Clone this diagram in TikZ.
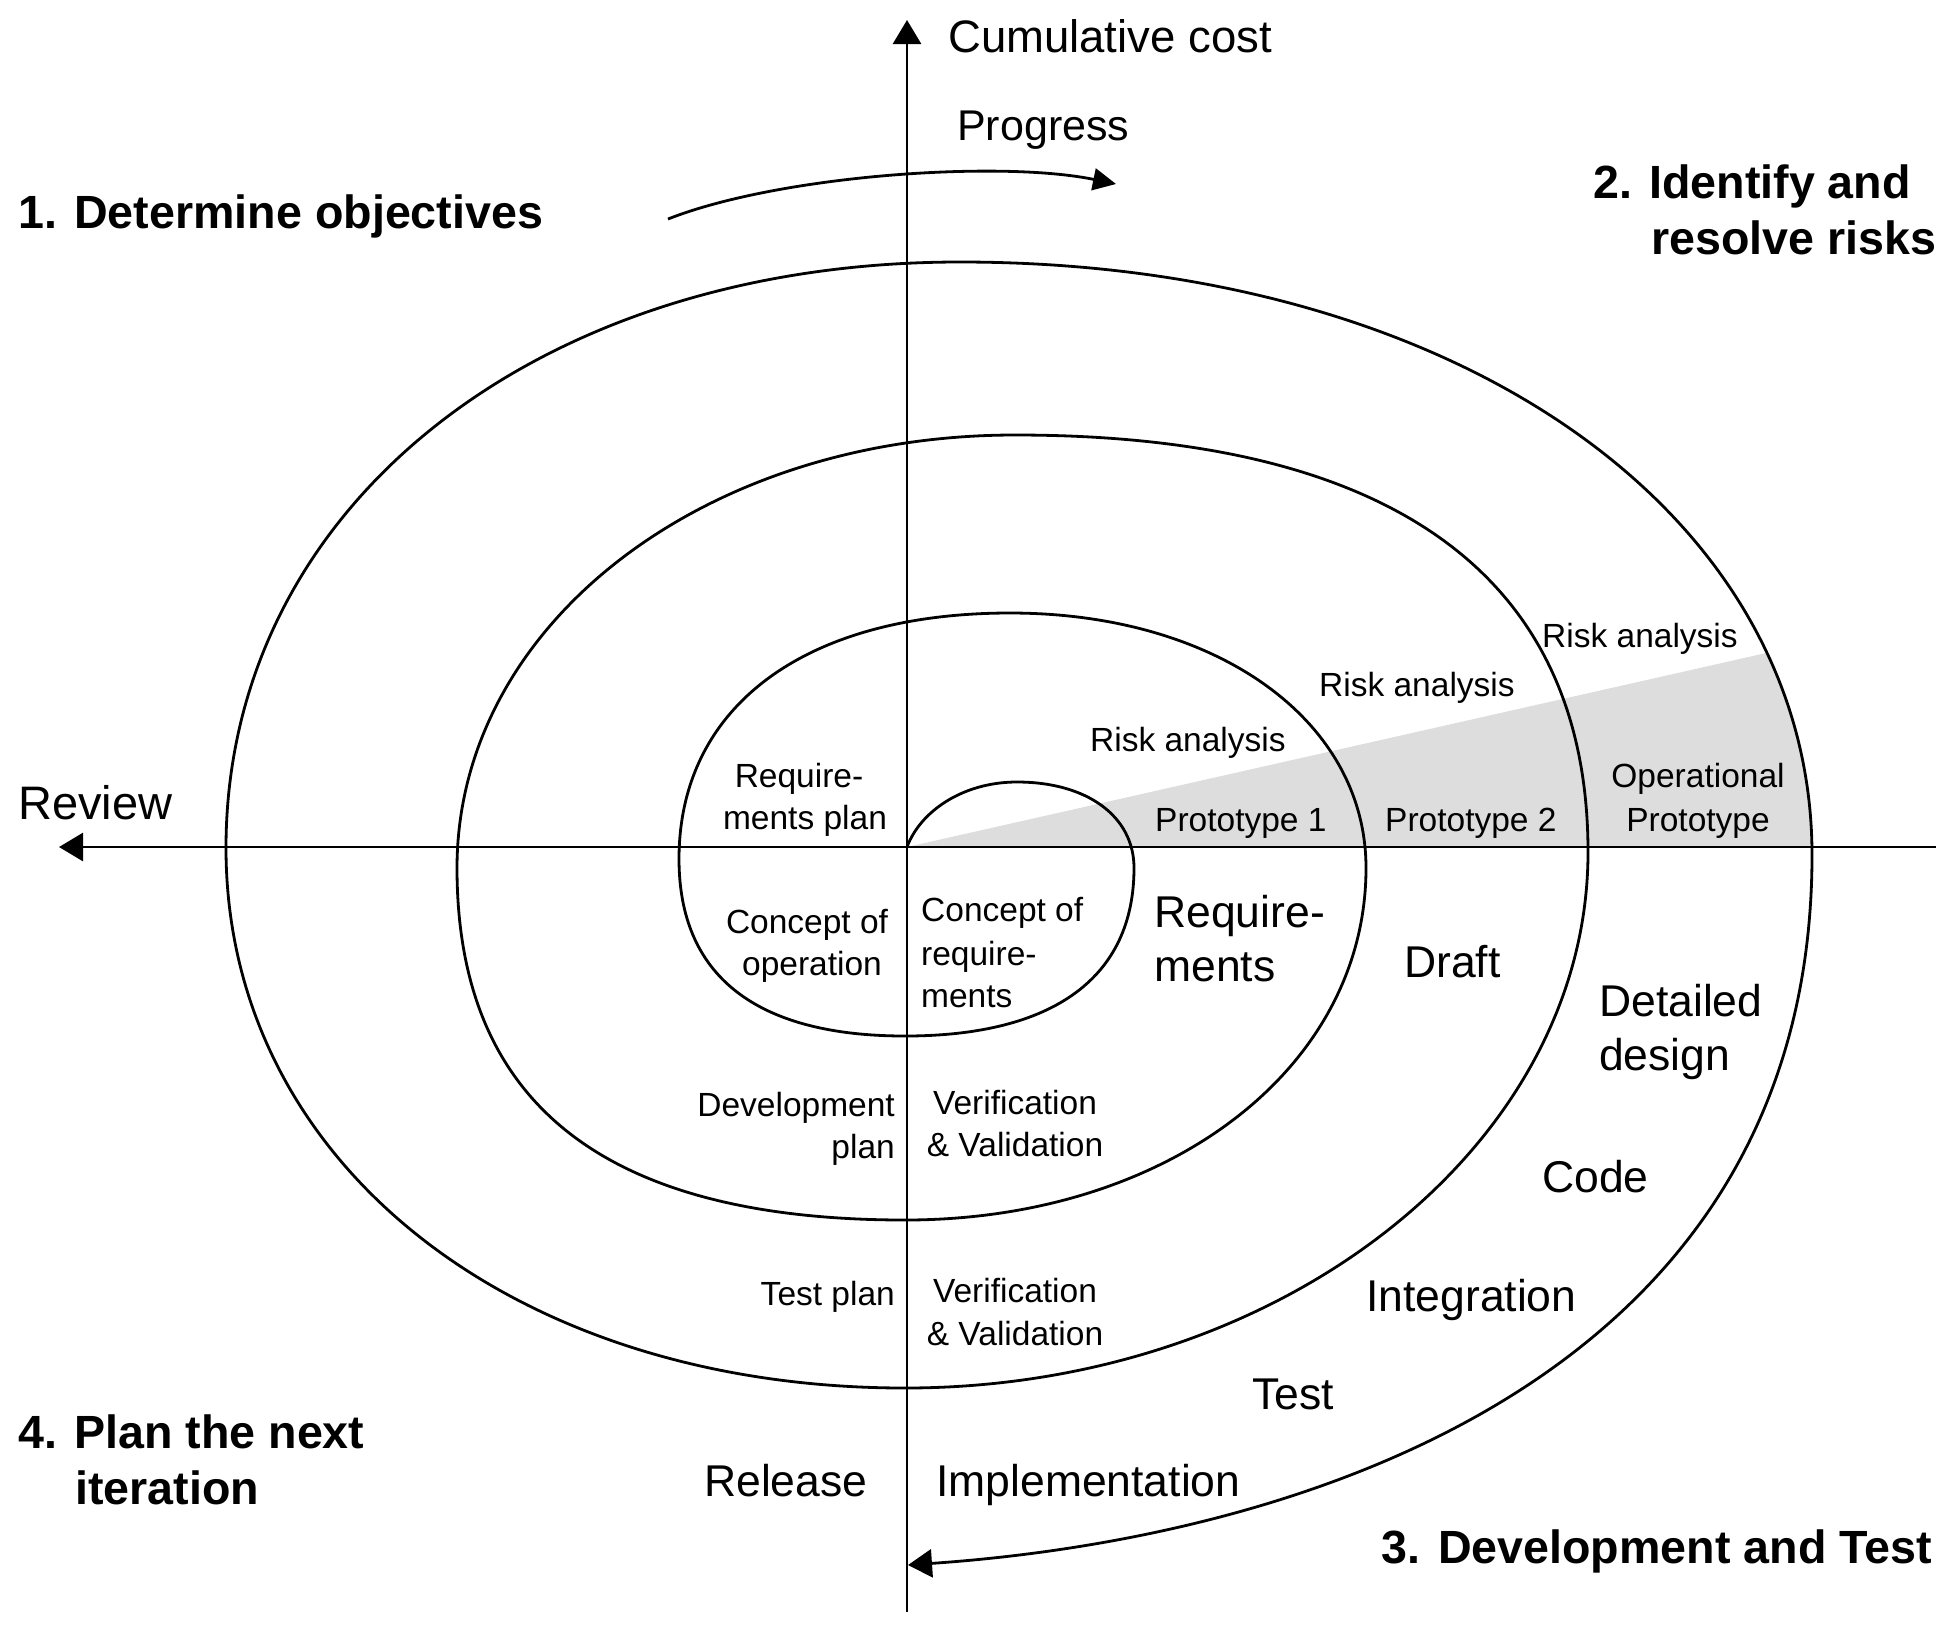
\documentclass[tikz,border=0pt]{standalone}
\usepackage{fontspec}
\setmainfont{Liberation Sans}
\usetikzlibrary{arrows.meta}
\definecolor{wedgegray}{HTML}{DDDDDD}
\begin{document}
\begin{tikzpicture}[x=1pt,y=-1pt,
  stroke/.style={line width=2.8pt},
  tipA/.style={-{Triangle[length=24pt,width=28pt]}},
  tipP/.style={-{Triangle[length=23pt,width=22pt]}},
  small/.style={font=\fontsize{33.5}{40}\selectfont,inner sep=0pt},
  big/.style={font=\fontsize{44.5}{52}\selectfont,inner sep=0pt},
  head/.style={font=\fontsize{46.6}{56}\selectfont\bfseries,inner sep=0pt}]
\useasboundingbox (0,0) rectangle (1950,1628);
% key points of the spiral
\coordinate (O)  at (907,847);
\coordinate (T1) at (1017,782);
\coordinate (R1) at (1134,868);
\coordinate (B1) at (905,1036);
\coordinate (L2) at (679,859);
\coordinate (T2) at (1010,613);
\coordinate (R2) at (1366,868);
\coordinate (B2) at (905,1220);
\coordinate (L3) at (457,868);
\coordinate (T3) at (1015,435);
\coordinate (R3) at (1588,852);
\coordinate (B3) at (905,1388);
\coordinate (L4) at (226,848);
\coordinate (T4) at (960,262);
\coordinate (R4) at (1812,855);
\coordinate (E)  at (908,1565);
% axes end points
\coordinate (ytop) at (907,20);
\coordinate (ybot) at (907,1612);
\coordinate (xleft) at (59,847);
\coordinate (xright) at (1936,847);
\coordinate (pgs) at (668,219);
\coordinate (pge) at (1116,184);

% grey prototype wedge
\begin{scope}
  \clip (907,262) -- (T4) .. controls (1454.2,262) and (1812,511.1) .. (R4) -- (907,855) -- cycle;
  \fill[wedgegray] (O) -- (1950,611.5) -- (1950,847) -- cycle;
\end{scope}

% axes
\draw[stroke,tipA] (ybot) -- (ytop);
\draw[stroke,tipA] (xright) -- (xleft);

% progress arrow
\draw[stroke,tipP] (pgs) .. controls (780,175) and (1000,160) .. (pge);

% spiral
\draw[stroke,tipA] (O) .. controls (920,812) and (962,782) .. (T1)
  .. controls (1087.2,782) and (1134,816.4) .. (R1)
  .. controls (1134,977.2) and (1053.9,1036) .. (B1)
  .. controls (755.8,1036) and (679,975.8) .. (L2)
  .. controls (679,706.5) and (804.8,613) .. (T2)
  .. controls (1216.5,613) and (1366,720.1) .. (R2)
  .. controls (1366,1068.6) and (1167.8,1220) .. (B2)
  .. controls (604.8,1220) and (457,1103.8) .. (L3)
  .. controls (457,625.5) and (702.5,435) .. (T3)
  .. controls (1393.2,435) and (1588,576.8) .. (R3)
  .. controls (1588,1146.8) and (1280.7,1388) .. (B3)
  .. controls (511.2,1388) and (226,1161.2) .. (L4)
  .. controls (226,508.1) and (534.3,262) .. (T4)
  .. controls (1454.2,262) and (1812,511.1) .. (R4)
  .. controls (1812,1380) and (1300,1538) .. (E);

% axis labels
\node[inner sep=0pt,font=\fontsize{45.5}{54}\selectfont,anchor=base west] (cc) at (948,52) {Cumulative cost};
\node[inner sep=0pt,font=\fontsize{43}{52}\selectfont,anchor=base west] (pg) at (957,140) {Progress};
\node[inner sep=0pt,font=\fontsize{47}{54}\selectfont,anchor=base west] (rv) at (18,819) {Review};

% quadrant headings
\node[head,anchor=base west] (h1) at (18,228) {1. Determine objectives};
\node[head,anchor=base west] (h2a) at (1593,198) {2. Identify and};
\node[head,anchor=base west] (h2b) at (1651,254) {resolve risks};
\node[head,anchor=base east] (h3) at (1932,1563) {3. Development and Test};
\node[head,anchor=base west] (h4a) at (18,1448) {4. Plan the next};
\node[head,anchor=base west] (h4b) at (75,1504) {iteration};

% small labels
\node[small,anchor=base west] (ra1) at (1090,751) {Risk analysis};
\node[small,anchor=base west] (ra2) at (1319,696) {Risk analysis};
\node[small,anchor=base west] (ra3) at (1542,647) {Risk analysis};
\node[small,anchor=base west] (p1) at (1155,831) {Prototype 1};
\node[small,anchor=base west] (p2) at (1385,831) {Prototype 2};
\node[small,anchor=base] (op1) at (1698,787) {Operational};
\node[small,anchor=base] (op2) at (1698,831) {Prototype};
\node[small,anchor=base] (rp1) at (799,787) {Require-};
\node[small,anchor=base] (rp2) at (805,829) {ments plan};
\node[small,anchor=base] (co1) at (807,933) {Concept of};
\node[small,anchor=base] (co2) at (812,975) {operation};
\node[small,anchor=base west] (cr1) at (921,921) {Concept of};
\node[small,anchor=base west] (cr2) at (921,965) {require-};
\node[small,anchor=base west] (cr3) at (921,1007) {ments};
\node[small,anchor=base east] (dp1) at (895,1116) {Development};
\node[small,anchor=base east] (dp2) at (895,1158) {plan};
\node[small,anchor=base] (vv1) at (1015,1114) {Verification};
\node[small,anchor=base] (vv2) at (1015,1156) {\& Validation};
\node[small,anchor=base east] (tp) at (895,1305) {Test plan};
\node[small,anchor=base] (vv3) at (1015,1302) {Verification};
\node[small,anchor=base] (vv4) at (1015,1345) {\& Validation};

% big labels
\node[big,anchor=base west] (rq1) at (1154,927) {Require-};
\node[big,anchor=base west] (rq2) at (1154,981) {ments};
\node[big,anchor=base west] (dr) at (1404,977) {Draft};
\node[big,anchor=base west] (dd1) at (1599,1016) {Detailed};
\node[big,anchor=base west] (dd2) at (1599,1070) {design};
\node[big,anchor=base west] (cd) at (1542,1192) {Code};
\node[big,anchor=base west] (ig) at (1366,1311) {Integration};
\node[big,anchor=base west] (ts) at (1252,1409) {Test};
\node[big,anchor=base west] (im) at (936,1496) {Implementation};
\node[big,anchor=base west] (rl) at (704,1496) {Release};
\end{tikzpicture}
\end{document}
